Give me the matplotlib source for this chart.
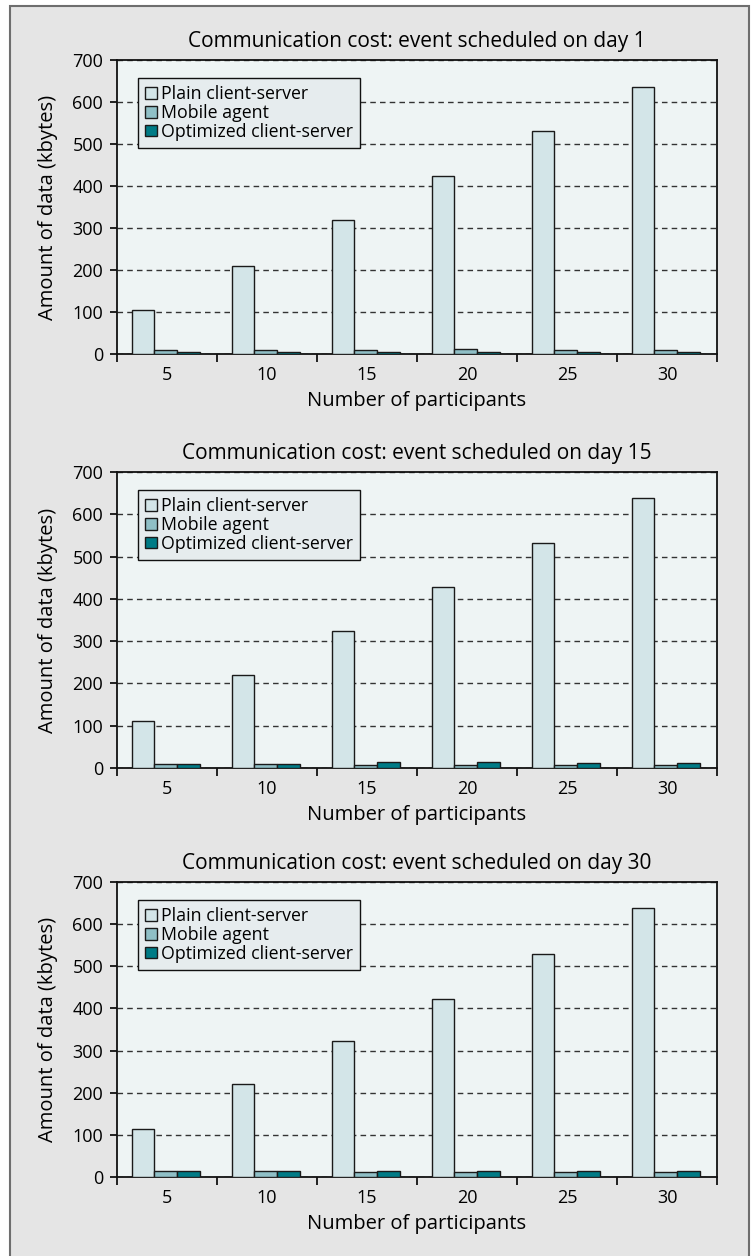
import numpy as np
import matplotlib
matplotlib.use("Agg")
import matplotlib.pyplot as plt
from matplotlib.patches import Rectangle

plt.rcParams['font.family'] = ['Open Sans', 'DejaVu Sans']

participants = ["5", "10", "15", "20", "25", "30"]
series = ["Plain client-server", "Mobile agent", "Optimized client-server"]
titles = ["Communication cost: event scheduled on day 1",
          "Communication cost: event scheduled on day 15",
          "Communication cost: event scheduled on day 30"]

# day 1
plain_d1 = [105, 210, 320, 425, 532, 636]
mobile_d1 = [10, 10, 10, 11, 10, 10]
optim_d1 = [5, 5, 4, 4, 4, 4]
# day 15
plain_d15 = [110, 219, 324, 429, 533, 638]
mobile_d15 = [9, 9, 8, 8, 7.5, 7.5]
optim_d15 = [9, 9, 13.5, 13.5, 11.5, 11.5]
# day 30
plain_d30 = [114, 221, 322, 422, 530, 638]
mobile_d30 = [14, 14, 11, 11, 11, 11]
optim_d30 = [14, 14, 15, 15, 15, 15]

panels = [(plain_d1, mobile_d1, optim_d1),
          (plain_d15, mobile_d15, optim_d15),
          (plain_d30, mobile_d30, optim_d30)]

colors = ["#d3e5e8", "#8fbfc6", "#007b86"]

W, H = 756, 1256
fig = plt.figure(figsize=(W / 100, H / 100), dpi=100, facecolor="white")
fig.patches.append(Rectangle((10 / W, -0.01), 739 / W, (H - 5.5) / H + 0.01,
                             transform=fig.transFigure, facecolor="#e5e5e5",
                             edgecolor="#6e6e6e", lw=1.5, zorder=-10))

# axes boxes in pixels: (top, bottom)
boxes = [(60, 354), (472, 768), (882, 1177)]
x = np.arange(len(participants))
bw = 0.227

for (top, bot), title, vals in zip(boxes, titles, panels):
    ax = fig.add_axes([117 / W, (H - bot) / H, 600 / W, (bot - top) / H])
    ax.set_facecolor("#eef4f4")
    for i, (v, c, lab) in enumerate(zip(vals, colors, series)):
        ax.bar(x + (i - 1) * bw - 0.012, v, width=bw, color=c,
               edgecolor="#1a1a1a", lw=1.0, label=lab, zorder=3)
    ax.set_xlim(-0.5, 5.5)
    ax.set_ylim(0, 700)
    ax.set_yticks(range(0, 701, 100))
    ax.set_xticks(x)
    ax.set_xticklabels(participants)
    ax.set_xticks(np.arange(-0.5, 5.6, 1), minor=True)
    ax.tick_params(axis="x", which="major", length=0, pad=8.5, labelsize=13)
    ax.tick_params(axis="x", which="minor", length=6, width=1.2, direction="out")
    ax.tick_params(axis="y", length=5, width=1.2, labelsize=13, pad=5)
    ax.yaxis.grid(True, ls=(0, (4, 3)), color="#333333", lw=1)
    ax.set_axisbelow(True)
    for s in ax.spines.values():
        s.set_linewidth(1.3)
        s.set_color("#111111")
    ax.set_title(title, fontsize=15, pad=9)
    ax.set_xlabel("Number of participants", fontsize=14.5, labelpad=5.5)
    ax.set_ylabel("Amount of data (kbytes)", fontsize=14.5, labelpad=10)
    leg = ax.legend(loc="upper left", bbox_to_anchor=(21 / 600, 1 - 18 / (bot - top)),
                    borderaxespad=0, fontsize=12.8, fancybox=False,
                    edgecolor="#111111", facecolor="#e6ecee", framealpha=1,
                    handlelength=0.65, handleheight=0.62, handletextpad=0.25,
                    labelspacing=0.05, borderpad=0.4)
    leg.get_frame().set_linewidth(1.0)

fig.savefig("out.png", dpi=100, facecolor=fig.get_facecolor())
